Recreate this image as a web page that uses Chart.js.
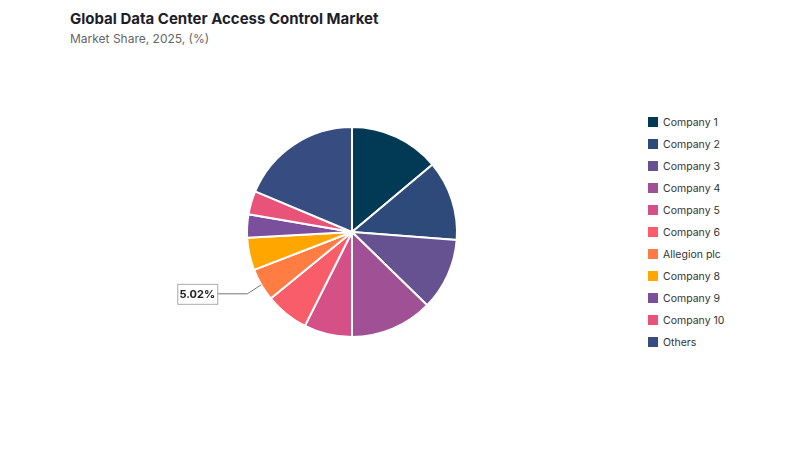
<!DOCTYPE html>
<html><head><meta charset="utf-8">
<script src="https://cdn.jsdelivr.net/npm/chart.js@4/dist/chart.umd.min.js"></script>
<style>
body{margin:0;width:800px;height:450px;background:#fff;font-family:Inter,"DejaVu Sans",sans-serif;position:relative;overflow:hidden}
#t{position:absolute;left:70px;top:9px;font-size:15px;font-weight:700;color:#1e1e2a}
#s{position:absolute;left:70px;top:31px;font-size:12px;color:#666}
#c{position:absolute;left:146px;top:26px;width:412px;height:412px}
#lg{position:absolute;left:648px;top:111px;font-size:10.5px;color:#333}
#lg div{height:22px;display:flex;align-items:center}
#lg span{display:inline-block;width:10px;height:10px;margin-right:5px}
</style></head><body>
<div id="t">Global Data Center Access Control Market</div>
<div id="s">Market Share, 2025, (%)</div>
<div id="c"><canvas id="cv"></canvas></div>
<div id="lg"></div>
<script>
const categories=["Company 1","Company 2","Company 3","Company 4","Company 5","Company 6","Allegion plc","Company 8","Company 9","Company 10","Others"];
const values=[13.9,12.3,11.1,12.7,7.4,6.7,5.02,5.0,3.6,3.6,18.68];
const colors=["#023a56","#2e4a7a","#665191","#a05195","#d45087","#f95d6a","#ff7c43","#ffa600","#7a4f9c","#e9537a","#374c80"];
const labelIndex=6;
const lg=document.getElementById('lg');
categories.forEach((c,i)=>{const d=document.createElement('div');d.innerHTML='<span style="background:'+colors[i]+'"></span>'+c;lg.appendChild(d);});
const labelPlugin={id:'lbl',afterDatasetsDraw(ch){
 const a=ch.getDatasetMeta(0).data[labelIndex];const ctx=ch.ctx;
 const mid=(a.startAngle+a.endAngle)/2;
 const x0=a.x+Math.cos(mid)*a.outerRadius,y0=a.y+Math.sin(mid)*a.outerRadius;
 const x1=x0-14,y1=y0+9;const bx=x1-70,by=y1-10;
 ctx.save();ctx.strokeStyle='#777';ctx.lineWidth=1;ctx.beginPath();ctx.moveTo(x0,y0);ctx.lineTo(x1,y1);ctx.lineTo(bx+40,y1);ctx.stroke();
 ctx.fillStyle='#fff';ctx.strokeStyle='#aaa';ctx.fillRect(bx,by,40,20);ctx.strokeRect(bx+0.5,by+0.5,40,20);
 ctx.fillStyle='#222';ctx.font='bold 11px Inter';ctx.textAlign='center';ctx.textBaseline='middle';
 ctx.fillText(values[labelIndex].toFixed(2)+'%',bx+20,y1+1);ctx.restore();}};
new Chart(document.getElementById('cv'),{type:'pie',
 data:{labels:categories,datasets:[{data:values,backgroundColor:colors,borderColor:'#fff',borderWidth:2}]},
 options:{responsive:true,maintainAspectRatio:false,animation:false,layout:{padding:100},
  plugins:{legend:{display:false},tooltip:{enabled:false}}},plugins:[labelPlugin]});
</script></body></html>
